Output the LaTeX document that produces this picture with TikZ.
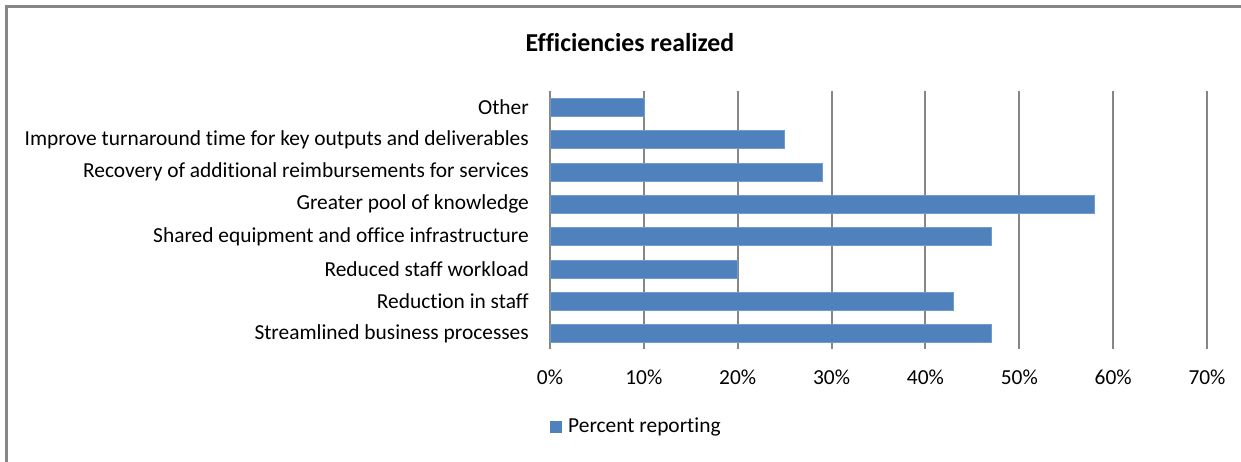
\documentclass[tikz,border=0pt]{standalone}
\usepackage{fontspec}
\setmainfont[Ligatures={TeX,NoCommon}]{Carlito}
\definecolor{barblue}{HTML}{4F81BD}
\definecolor{gridgray}{HTML}{868686}
\tikzset{
  lbl/.style={anchor=east, inner sep=0pt, font=\fontsize{21.4}{25}\selectfont},
  tick/.style={anchor=center, inner sep=0pt, font=\fontsize{21.4}{25}\selectfont},
  grid line/.style={draw=gridgray, line width=2pt},
  bar/.style={fill=barblue, draw=barblue!80!white, line width=0.6pt},
  frame/.style={draw=gridgray, line width=2.2pt}
}
\begin{document}
\begin{tikzpicture}[x=1pt,y=-1pt]
\useasboundingbox (0,0) rectangle (1241,462);
% frame (only top and left visible)
\draw[frame] (6.5,462) -- (6.5,6.5) -- (1241,6.5);
% title
\node[inner sep=0pt, font=\fontsize{25.8}{30}\selectfont\bfseries] (title) at (630,43) {Efficiencies realized};
% gridlines and tick labels
\foreach \i in {0,...,7} {
  \draw[grid line] (550+93.86*\i,91) -- (550+93.86*\i,349);
  \node[tick] (t\i) at (550+93.86*\i,377) {\the\numexpr\i*10\relax\%};
}
% bars
\foreach \v/\n [count=\k from 0] in {10/Other,25/Improve turnaround time for key outputs and deliverables,29/Recovery of additional reimbursements for services,58/Greater pool of knowledge,47/Shared equipment and office infrastructure,20/Reduced staff workload,43/Reduction in staff,47/Streamlined business processes} {
  \fill[bar] (550,98.3+32.3*\k) rectangle (550+9.386*\v,116.3+32.3*\k);
  \node[lbl] (c\k) at (529,107.3+32.3*\k) {\n};
}
% legend
\fill[barblue] (550,421) rectangle (562,433);
\node[anchor=west, inner sep=0pt, font=\fontsize{21.4}{25}\selectfont] (leg) at (568,427) {Percent reporting};
\end{tikzpicture}
\end{document}
